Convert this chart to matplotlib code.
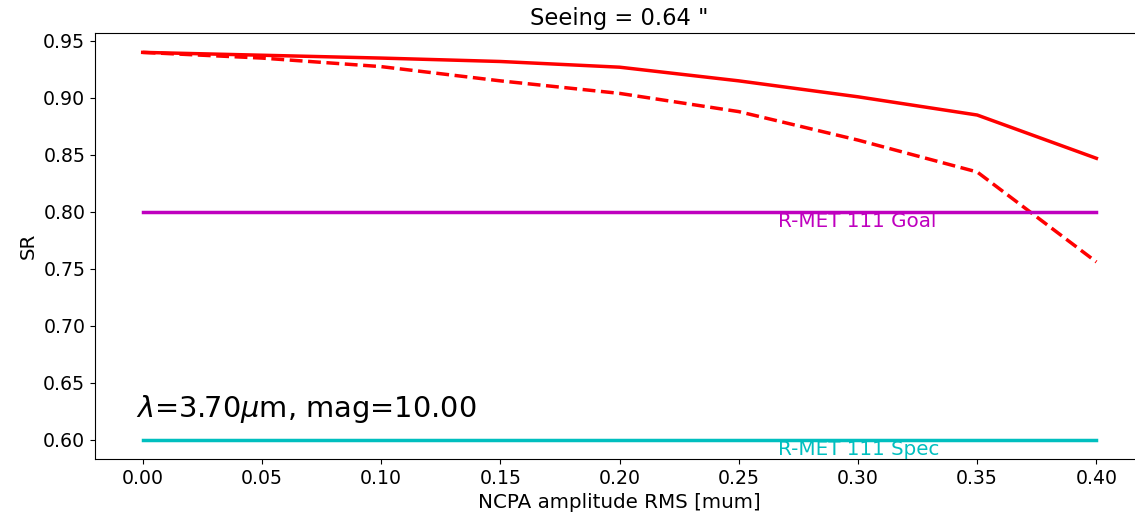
import matplotlib
matplotlib.use("Agg")
import matplotlib.pyplot as plt

# NCPA amplitude RMS values and Strehl ratios
ncpa = [0.0, 0.05, 0.10, 0.15, 0.20, 0.25, 0.30, 0.35, 0.40]
sr_solid = [0.940, 0.9375, 0.935, 0.932, 0.927, 0.915, 0.901, 0.885, 0.847]
sr_dashed = [0.940, 0.935, 0.9275, 0.915, 0.904, 0.888, 0.863, 0.835, 0.756]
goal = 0.80
spec = 0.60
seeing = 0.64
wavelength = 3.70
mag = 10.00


def plot_sr():
    fig = plt.figure(figsize=(11.35, 5.24), dpi=100)
    # axes run slightly past the right edge, as in the cropped original
    ax = fig.add_axes([0.0837, 0.124, 0.9243, 0.813])
    ax.plot(ncpa, sr_solid, 'r-', lw=2.5)
    ax.plot(ncpa, sr_dashed, 'r--', lw=2.5)
    ax.plot([ncpa[0], ncpa[-1]], [goal, goal], color='m', lw=2.5)
    ax.plot([ncpa[0], ncpa[-1]], [spec, spec], color='c', lw=2.5)
    xt = ncpa[-1] * 2 / 3
    ax.text(xt, goal, 'R-MET 111 Goal', color='m', fontsize=14.3, va='top')
    ax.text(xt, spec, 'R-MET 111 Spec', color='c', fontsize=14.3, va='top')
    ax.text(-0.0028, 0.620, rf'$\lambda$={wavelength:.2f}$\mu$m, mag={mag:.2f}',
            fontsize=20.8, va='baseline')
    ax.set_xlim(-0.02, 0.42)
    ax.set_xticks(ncpa)
    ax.set_xticklabels([f'{v:.2f}' for v in ncpa])
    ax.tick_params(labelsize=13.6)
    ax.spines['right'].set_visible(False)
    ax.set_xlabel('NCPA amplitude RMS [mum]', fontsize=14.3)
    ax.set_ylabel('SR', fontsize=14.3)
    ax.set_title(f'Seeing = {seeing:.2f} "', fontsize=16.3)
    fig.savefig('out.png', dpi=100)


if __name__ == "__main__":
    plot_sr()
